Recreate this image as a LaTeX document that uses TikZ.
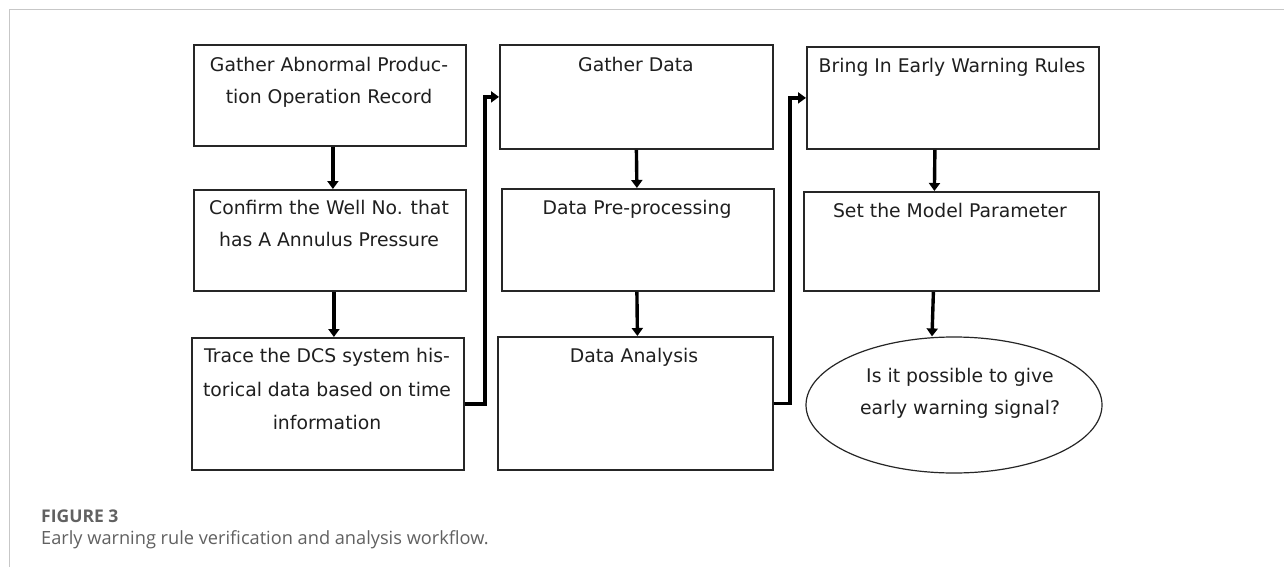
\documentclass[tikz,border=0pt]{standalone}
\usepackage{fontspec}
\setmainfont{DejaVu Sans}
\newfontfamily\capfont{Open Sans}
\usetikzlibrary{arrows.meta,shapes.geometric}
\begin{document}
\begin{tikzpicture}[x=1pt,y=-1pt,
  box/.style={draw=black!85,line width=1.8pt,anchor=north west,inner sep=0pt},
  btext/.style={anchor=north,align=center,font=\fontsize{18.8}{32}\selectfont,text=black!88,inner sep=0pt},
  flow/.style={line width=3.4pt,-{Triangle[length=8pt,width=11pt]}},
  link/.style={line width=3.4pt,-{Triangle[length=8pt,width=11pt]}}]
\useasboundingbox (0,0) rectangle (1284,567);
\fill[white] (0,0) rectangle (1284,567);
\draw[line width=1.5pt,black!22] (9.5,567) -- (9.5,9.5) -- (1284,9.5);

% column 1
\node[box,minimum width=272pt,minimum height=101pt] (A) at (193,44) {};
\node[btext] (At) at (329,57.5) {Gather Abnormal Produc-\\tion Operation Record};
\node[box,minimum width=272pt,minimum height=101pt] (B) at (193,189) {};
\node[btext] (Bt) at (329,200.5) {Confirm the Well No. that\\has A Annulus Pressure};
\node[box,minimum width=272pt,minimum height=132pt] (C) at (191,337) {};
\node[btext,font=\fontsize{18.8}{33.5}\selectfont] (Ct) at (327,348.5) {Trace the DCS system his-\\torical data based on time\\information};

% column 2
\node[box,minimum width=273pt,minimum height=104pt] (D) at (499,44) {};
\node[btext] (Dt) at (636,57.5) {Gather Data};
\node[box,minimum width=272pt,minimum height=102pt] (E) at (501,188) {};
\node[btext] (Et) at (637,200.5) {Data Pre-processing};
\node[box,minimum width=275pt,minimum height=133pt] (F) at (497,336) {};
\node[btext] (Ft) at (634,348.5) {Data Analysis};

% column 3
\node[box,minimum width=292pt,minimum height=102pt] (G) at (806,46) {};
\node[btext] (Gt) at (952,58.5) {Bring In Early Warning Rules};
\node[box,minimum width=295pt,minimum height=99pt] (H) at (803,191) {};
\node[btext] (Ht) at (950,203.5) {Set the Model Parameter};
\node[draw=black!85,line width=1.2pt,ellipse,minimum width=296pt,minimum height=136pt,inner sep=0pt] (I) at (954,405) {};
\node[btext] (It) at (960,368.5) {Is it possible to give\\early warning signal?};

% arrows
\draw[flow] ([xshift=3pt]A.south) -- ([xshift=3pt]B.north);
\draw[flow] ([xshift=4pt]B.south) -- ([xshift=6pt]C.north);
\draw[flow] (D.south) -- ([xshift=-1pt]E.north);
\draw[flow] ([xshift=-1pt]E.south) -- ([xshift=2pt]F.north);
\draw[flow] ([xshift=-18pt]G.south) -- ([xshift=-17pt]H.north);
\draw[flow] ([xshift=-18pt]H.south) -- ([xshift=-22pt]I.north);
\draw[link] (C.east) -- ++(20,0) |- (D.west);
\draw[link] (F.east) -- ++(16,0) |- (G.west);

% caption
\node[anchor=base west,inner sep=0pt,font=\capfont\fontsize{17.5}{20}\selectfont\bfseries,text=black!62] (cap1) at (41,522) {FIGURE 3};
\node[anchor=base west,inner sep=0pt,font=\capfont\fontsize{18.2}{20}\selectfont,text=black!62] (cap2) at (41,544) {Early warning rule verification and analysis workflow.};
\end{tikzpicture}
\end{document}
